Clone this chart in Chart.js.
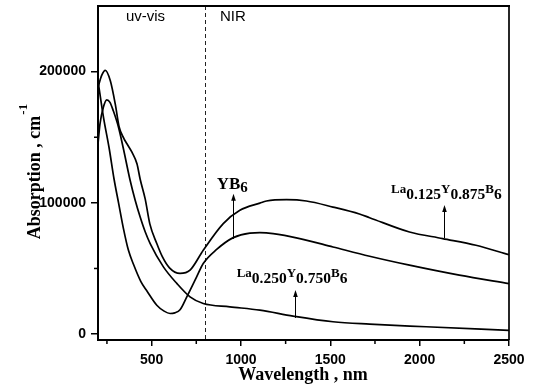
<!DOCTYPE html>
<html><head><meta charset="utf-8">
<script src="https://cdn.jsdelivr.net/npm/chart.js@4/dist/chart.umd.min.js"></script>
<style>html,body{margin:0;padding:0;background:#fff}#wrap{width:538px;height:387px}</style>
</head><body><div id="wrap"><canvas id="c" width="538" height="387"></canvas></div>
<script>
// ---- data ----
const wlLa125  = [200, 220, 241, 269, 297, 318, 345, 362, 390, 418, 436, 464, 490, 529, 560, 600, 659, 715, 789, 901, 994, 1106, 1143, 1255, 1366, 1515, 1663, 1720, 1943, 2129, 2315, 2500];
const absLa125 = [188000, 197000, 201000, 193000, 175000, 158000, 149000, 145000, 138600, 129800, 118000, 103000, 84000, 69000, 59000, 50500, 46200, 48700, 63900, 84200, 94300, 99800, 101400, 102400, 101400, 96800, 91500, 88700, 77800, 72800, 67700, 60500];

const wlYB6  = [200, 231, 262, 290, 315, 343, 370, 399, 440, 473, 529, 570, 603, 630, 659, 697, 752, 789, 864, 957, 1050, 1106, 1180, 1329, 1515, 1720, 1943, 2222, 2500];
const absYB6 = [193000, 165000, 142000, 118000, 100000, 80000, 64000, 53000, 40000, 33000, 22000, 17500, 15700, 16200, 18500, 28400, 43600, 53800, 64500, 73500, 77000, 77300, 76600, 72800, 66400, 59300, 52500, 44900, 38500];

const wlLa250  = [200, 211, 230, 249, 267, 286, 314, 341, 380, 408, 436, 464, 492, 566, 641, 715, 789, 938, 1106, 1292, 1515, 1720, 2036, 2500];
const absLa250 = [145000, 160000, 172800, 178500, 176600, 170000, 158000, 142000, 117000, 102000, 89200, 78000, 69000, 51200, 38600, 28400, 23300, 20800, 18200, 13700, 9400, 7600, 5600, 2800];

const xTicks = [500, 1000, 1500, 2000, 2500];
const xMinorTicks = [250, 750, 1250, 1750, 2250];
const yTicks = [0, 100000, 200000];
const yMinorTicks = [50000, 150000];
const regionLabels = ['uv-vis', 'NIR'];
const boundaryWl = 800;
const xTitle = 'Wavelength , nm';
const yTitle = 'Absorption , cm';
const yTitleSup = '-1';

const labelYB6   = [['YB', 'B'], ['6', 's']];
const labelLa125 = [['La', 'L'], ['0.125', 'S'], ['Y', 'L'], ['0.875', 'S'], ['B', 'L'], ['6', 'S']];
const labelLa250 = [['La', 'L'], ['0.250', 'S'], ['Y', 'L'], ['0.750', 'S'], ['B', 'L'], ['6', 'S']];

// annotation anchors in data units
const annotations = [
  {parts: labelYB6,   wl: 864,  val: 110600, arrowWl: 957,  headVal: 107000, tailVal: 72500},
  {parts: labelLa125, wl: 1840, val: 107500, arrowWl: 2138, headVal: 98400,  tailVal: 73200},
  {parts: labelLa250, wl: 976,  val: 43500,  arrowWl: 1302, headVal: 33600,  tailVal: 12300}
];
const regionPos = [{wl: 466, val: 238500}, {wl: 955, val: 238500}];

// ---- chart ----
const SANS = '"Liberation Sans", Arial, sans-serif';
const SERIF = '"Liberation Serif", "Times New Roman", serif';
const partFonts = {
  B: {font: 'bold 17px ' + SERIF, dy: 0},
  s: {font: 'bold 15px ' + SERIF, dy: 3},
  L: {font: 'bold 13px ' + SERIF, dy: 0},
  S: {font: 'bold 15.5px ' + SERIF, dy: 6}
};

function mkData(xs, ys) { return xs.map((x, i) => ({x: x, y: ys[i]})); }
function ds(xs, ys) {
  return {data: mkData(xs, ys), borderColor: '#000', borderWidth: 1.7, pointRadius: 0,
          showLine: true, fill: false, cubicInterpolationMode: 'monotone'};
}

const decor = {
  id: 'decor',
  beforeDatasetsDraw(chart) {
    const {ctx, chartArea: a, scales: {x}} = chart;
    const px = Math.round(x.getPixelForValue(boundaryWl)) + 0.5;
    ctx.save();
    ctx.strokeStyle = '#222'; ctx.lineWidth = 1; ctx.setLineDash([4, 3]);
    ctx.beginPath(); ctx.moveTo(px, a.top); ctx.lineTo(px, a.bottom); ctx.stroke();
    ctx.restore();
  },
  afterDraw(chart) {
    const {ctx, chartArea: a, scales: {x, y}} = chart;
    ctx.save();
    ctx.strokeStyle = '#000';
    // frame top & right
    ctx.lineWidth = 2;
    ctx.beginPath(); ctx.moveTo(a.left - 1, a.top); ctx.lineTo(a.right + 1, a.top); ctx.stroke();
    ctx.lineWidth = 1.7;
    ctx.beginPath(); ctx.moveTo(a.right, a.top); ctx.lineTo(a.right, a.bottom); ctx.stroke();
    // minor ticks
    ctx.lineWidth = 1.5;
    xMinorTicks.forEach(v => {
      const p = x.getPixelForValue(v);
      ctx.beginPath(); ctx.moveTo(p, a.bottom); ctx.lineTo(p, a.bottom + 4); ctx.stroke();
    });
    yMinorTicks.forEach(v => {
      const p = y.getPixelForValue(v);
      ctx.beginPath(); ctx.moveTo(a.left - 4, p); ctx.lineTo(a.left, p); ctx.stroke();
    });
    // region labels
    ctx.fillStyle = '#000';
    ctx.font = '15px ' + SANS; ctx.textAlign = 'center'; ctx.textBaseline = 'alphabetic';
    regionLabels.forEach((t, i) => {
      ctx.fillText(t, x.getPixelForValue(regionPos[i].wl), y.getPixelForValue(regionPos[i].val));
    });
    // annotations
    ctx.textAlign = 'left';
    annotations.forEach(an => {
      let cx = x.getPixelForValue(an.wl);
      const by = y.getPixelForValue(an.val);
      an.parts.forEach(([t, k]) => {
        const f = partFonts[k];
        ctx.font = f.font;
        ctx.fillText(t, cx, by + f.dy);
        cx += ctx.measureText(t).width;
      });
      const ax = Math.round(x.getPixelForValue(an.arrowWl)) + 0.5;
      const hy = y.getPixelForValue(an.headVal);
      const ty = y.getPixelForValue(an.tailVal);
      ctx.lineWidth = 1;
      ctx.beginPath(); ctx.moveTo(ax, ty); ctx.lineTo(ax, hy + 5); ctx.stroke();
      ctx.beginPath(); ctx.moveTo(ax, hy); ctx.lineTo(ax - 2.3, hy + 7); ctx.lineTo(ax + 2.3, hy + 7); ctx.closePath(); ctx.fill();
    });
    // axis titles
    ctx.font = 'bold 18px ' + SERIF; ctx.textAlign = 'center';
    ctx.fillText(xTitle, 303, 380);
    ctx.save();
    ctx.translate(40, 172);
    ctx.rotate(-Math.PI / 2);
    ctx.font = 'bold 18px ' + SERIF;
    const w1 = ctx.measureText(yTitle).width;
    ctx.font = 'bold 13px ' + SERIF;
    const w2 = ctx.measureText(yTitleSup).width;
    const start = -(w1 + w2) / 2;
    ctx.textAlign = 'left';
    ctx.font = 'bold 18px ' + SERIF;
    ctx.fillText(yTitle, start, 0);
    ctx.font = 'bold 13px ' + SERIF;
    ctx.fillText(yTitleSup, start + w1 + 1, -13);
    ctx.restore();
    ctx.restore();
  }
};

new Chart(document.getElementById('c'), {
  type: 'scatter',
  data: {datasets: [ds(wlLa125, absLa125), ds(wlYB6, absYB6), ds(wlLa250, absLa250)]},
  options: {
    responsive: false, animation: false, devicePixelRatio: 1,
    layout: {padding: {top: 6, right: 29, left: 0, bottom: 0}},
    plugins: {legend: {display: false}, tooltip: {enabled: false}},
    scales: {
      x: {
        type: 'linear', min: 200, max: 2500,
        afterBuildTicks: s => { s.ticks = xTicks.map(v => ({value: v})); },
        afterFit: s => { s.height = 47; s.paddingLeft = 0; s.paddingRight = 0; },
        grid: {display: true, drawOnChartArea: false, drawTicks: true, tickLength: 6, color: '#000', lineWidth: 1.5},
        border: {display: true, color: '#000', width: 2},
        ticks: {color: '#000', padding: 6, maxRotation: 0, autoSkip: false,
                font: {family: SANS, weight: 'bold', size: 14}, callback: v => String(v)}
      },
      y: {
        type: 'linear', min: -4500, max: 250000,
        afterBuildTicks: s => { s.ticks = yTicks.map(v => ({value: v})); },
        afterFit: s => { s.width = 98; s.paddingTop = 0; s.paddingBottom = 0; },
        grid: {display: true, drawOnChartArea: false, drawTicks: true, tickLength: 7, color: '#000', lineWidth: 1.5},
        border: {display: true, color: '#000', width: 2},
        ticks: {color: '#000', padding: 5, font: {family: SANS, weight: 'bold', size: 14},
                callback: v => String(v)}
      }
    }
  },
  plugins: [decor]
});
</script>
</body></html>
